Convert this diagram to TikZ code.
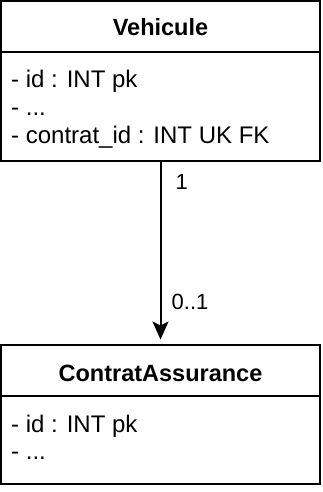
\documentclass[tikz,border=0pt]{standalone}
\usepackage{fontspec}
\setmainfont{Liberation Sans}
\usetikzlibrary{arrows.meta}

\tikzset{
  table/.style={draw, line width=2pt, inner sep=0pt, minimum width=319pt},
  title/.style={font=\fontsize{23.5}{28}\selectfont\bfseries, anchor=base, inner sep=0pt},
  field/.style={font=\fontsize{24}{28}\selectfont, anchor=base west, inner sep=0pt},
  card/.style={font=\fontsize{22}{26}\selectfont, anchor=base west, inner sep=0pt},
}

\begin{document}
\begin{tikzpicture}[x=1pt,y=-1pt]
  \useasboundingbox (0,0) rectangle (322,492);

  % Vehicule
  \node [table, minimum height=160pt] (vehicule) at (160.5,81) {};
  \draw [line width=2pt] (1,52) -- (320,52);
  \node [title] (vehtitle) at (160.5,36) {Vehicule};
  \node [field] (vehid) at (11,88) {- id : INT pk};
  \node [field] (vehdots) at (11,116) {- ...};
  \node [field] (vehfk) at (11,143) {- contrat\_id : INT UK FK};

  % ContratAssurance
  \node [table, minimum height=139pt] (contrat) at (160.5,414.5) {};
  \draw [line width=2pt] (1,396) -- (320,396);
  \node [title] (contitle) at (160.5,381) {ContratAssurance};
  \node [field] (conid) at (11,432) {- id : INT pk};
  \node [field] (condots) at (11,459) {- ...};

  % relation
  \draw [line width=2pt, shorten >=4.5pt, -{Stealth[length=18pt,width=16pt,inset=4pt]}]
    (vehicule.south) -- (contrat.north);
  \node [card] (cardone) at (175.5,189) {1};
  \node [card] (cardopt) at (171.5,309) {0..1};
\end{tikzpicture}
\end{document}
